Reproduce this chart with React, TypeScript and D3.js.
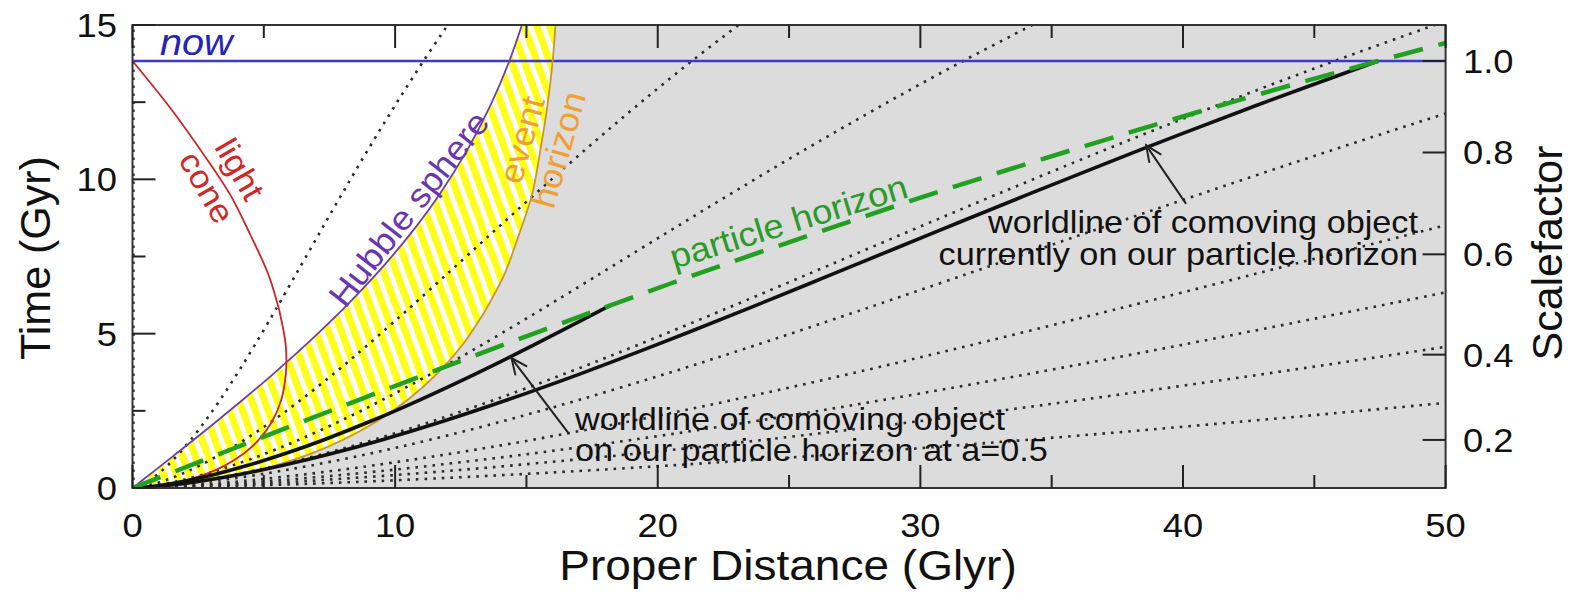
import React from 'react';
import * as d3 from 'd3';

const W = 1573;
const H = 593;

// Scale-factor history a(t) (read from the right-hand axis, intermediate values estimated)
const scaleFactor = [0, 0.005, 0.01, 0.02, 0.04, 0.06, 0.09, 0.12, 0.16, 0.2, 0.25, 0.3, 0.36, 0.42, 0.49, 0.5, 0.56, 0.64, 0.72, 0.81, 0.9, 1.0, 1.1];
const timeGyr = [0, 0.0062, 0.0175, 0.0494, 0.14, 0.257, 0.471, 0.726, 1.116, 1.557, 2.17, 2.841, 3.707, 4.627, 5.746, 5.908, 6.894, 8.217, 9.528, 10.97, 12.36, 13.834, 15.23];
// Proper distances (Glyr) of the curves at those times
const hubbleSphere = [0, 0.0093, 0.0262, 0.0741, 0.2096, 0.385, 0.707, 1.087, 1.669, 2.322, 3.217, 4.176, 5.374, 6.585, 7.96, 8.15, 9.247, 10.566, 11.702, 12.761, 13.611, 14.35, 14.917];
const eventHorizon = [0, 0.299, 0.582, 1.12, 2.118, 3.036, 4.294, 5.434, 6.797, 8.007, 9.325, 10.457, 11.6, 12.553, 13.43, 13.54, 14.146, 14.719, 15.221, 15.535, 15.795, 15.999, 16.123];
const particleHorizon = [0, 0.0185, 0.0524, 0.148, 0.419, 0.77, 1.415, 2.177, 3.351, 4.679, 6.531, 8.571, 11.234, 14.087, 17.649, 18.17, 21.373, 25.874, 30.446, 35.841, 41.29, 47.43, 53.65];
const lightCone = [0, 0.219, 0.422, 0.8, 1.478, 2.076, 2.854, 3.514, 4.237, 4.807, 5.326, 5.658, 5.84, 5.834, 5.591, 5.54, 5.186, 4.48, 3.702, 2.576, 1.396, 0];

// Comoving distances (Glyr) of the dotted worldlines
const comovingDistances = [0, 11.08, 21.3, 31.63, 45.77, 56.5, 76, 95, 120, 170];
// Solid worldlines: comoving distance and last index (scale factor) drawn
const worldlineNowChi = 47.43;
const worldlineNowEnd = 21; // a = 1.0
const worldlineHalfChi = 36.35;
const worldlineHalfEnd = 15; // a = 0.5

const nowTime = 13.834;

const xMajorTicks = [0, 10, 20, 30, 40, 50];
const xMinorTicks = [5, 15, 25, 35, 45];
const yMajorTicks = [0, 5, 10, 15];
const yMinorTicks = [2.5, 7.5, 12.5];
const scalefactorTicks = [0.2, 0.4, 0.6, 0.8, 1.0];
const scalefactorTickTimes = [1.557, 4.32, 7.57, 10.87, 13.834];
const scalefactorLabels = ['0.2', '0.4', '0.6', '0.8', '1.0'];

// Annotation arrows [tail, tip] in data coordinates (Glyr, Gyr)
const arrowNow = [[40.1, 9.23], [38.6, 11.1]];
const arrowHalf = [[16.6, 1.78], [14.43, 4.21]];

const FONT = "'Liberation Sans', Arial, Helvetica, sans-serif";
const SX = 1.07;

const L = 132.5, R = 1445.6, T = 25, B = 488;

function Txt(props: any) {
  const { x, y, rot = 0, size, anchor = 'start', fill = '#111', italic = false, sx = SX, children } = props;
  return (
    <text
      transform={`translate(${x},${y}) rotate(${rot}) scale(${sx},1)`}
      fontSize={size}
      textAnchor={anchor}
      fill={fill}
      fontStyle={italic ? 'italic' : 'normal'}
      fontFamily={FONT}
    >
      {children}
    </text>
  );
}

function Arrow({ pts, xs, ys }: any) {
  const [x1, y1] = [xs(pts[0][0]), ys(pts[0][1])];
  const [x2, y2] = [xs(pts[1][0]), ys(pts[1][1])];
  const ang = Math.atan2(y2 - y1, x2 - x1);
  const len = 17;
  const spread = 0.42;
  const h1 = [x2 - len * Math.cos(ang - spread), y2 - len * Math.sin(ang - spread)];
  const h2 = [x2 - len * Math.cos(ang + spread), y2 - len * Math.sin(ang + spread)];
  return (
    <g stroke="#222" strokeWidth={2} fill="none" strokeLinecap="round">
      <line x1={x1} y1={y1} x2={x2} y2={y2} />
      <polyline points={`${h1[0]},${h1[1]} ${x2},${y2} ${h2[0]},${h2[1]}`} />
    </g>
  );
}

export default function App() {
  const xs = d3.scaleLinear().domain([0, 50]).range([L, R]);
  const ys = d3.scaleLinear().domain([0, 15]).range([B, T]);
  const curve = d3.curveCatmullRom.alpha(0.5);

  const idx = d3.range(timeGyr.length);

  const hatchArea = d3
    .area<number>()
    .y((i) => ys(timeGyr[i]))
    .x0((i) => xs(hubbleSphere[i]))
    .x1((i) => xs(eventHorizon[i]))
    .curve(curve)(idx) as string;

  const grayArea = d3
    .area<number>()
    .y((i) => ys(timeGyr[i]))
    .x0((i) => xs(eventHorizon[i]))
    .x1(() => xs(60))
    .curve(curve)(idx) as string;

  const lineOf = (arr: number[], n?: number) =>
    d3
      .line<number>()
      .x((i) => xs(arr[i]))
      .y((i) => ys(timeGyr[i]))
      .curve(curve)(idx.slice(0, n ?? arr.length)) as string;

  const worldline = (chi: number, end: number) =>
    d3
      .line<number>()
      .x((i) => xs(scaleFactor[i] * chi))
      .y((i) => ys(timeGyr[i]))
      .curve(curve)(idx.slice(0, end + 1)) as string;

  return (
    <svg width={W} height={H} style={{ position: 'absolute', left: 0, top: 0, background: '#fff' }}>
      <defs>
        <clipPath id="plotClip">
          <rect x={L} y={T} width={R - L} height={B - T} />
        </clipPath>
        <pattern id="hatch" width={12} height={12} patternUnits="userSpaceOnUse" patternTransform="rotate(-20)">
          <rect width={12} height={12} fill="#ffffff" />
          <rect width={7} height={12} fill="#ffff1a" />
        </pattern>
      </defs>

      <g clipPath="url(#plotClip)">
        <path d={grayArea} fill="#dcdcdc" />
        <path d={hatchArea} fill="url(#hatch)" />

        {/* dotted comoving worldlines */}
        {comovingDistances.map((chi, k) =>
          chi === 0 ? (
            <line key={k} x1={xs(0) + 1} x2={xs(0) + 1} y1={ys(0)} y2={ys(15)} stroke="#333" strokeWidth={2.4} strokeDasharray="2.4 5.6" />
          ) : (
            <path key={k} d={worldline(chi, timeGyr.length - 1)} fill="none" stroke="#2a2a2a" strokeWidth={2.6} strokeDasharray="2.6 6" />
          )
        )}

        {/* now line */}
        <line x1={xs(0)} x2={xs(50)} y1={ys(nowTime)} y2={ys(nowTime)} stroke="#3a3ad0" strokeWidth={2.5} />

        {/* horizons */}
        <path d={lineOf(hubbleSphere)} fill="none" stroke="#6c3fae" strokeWidth={1.8} />
        <path d={lineOf(eventHorizon)} fill="none" stroke="#c8962a" strokeWidth={1.8} />
        <path d={lineOf(lightCone)} fill="none" stroke="#c82828" strokeWidth={1.8} />

        {/* solid worldlines */}
        <path d={worldline(worldlineHalfChi, worldlineHalfEnd)} fill="none" stroke="#111" strokeWidth={3.6} />
        <path d={worldline(worldlineNowChi, worldlineNowEnd)} fill="none" stroke="#111" strokeWidth={3.6} />

        {/* particle horizon */}
        <path d={lineOf(particleHorizon)} fill="none" stroke="#22a022" strokeWidth={4.5} strokeDasharray="30 16" />
      </g>

      {/* frame */}
      <rect x={L} y={T} width={R - L} height={B - T} fill="none" stroke="#333" strokeWidth={2} />

      {/* ticks */}
      <g stroke="#222" strokeWidth={2}>
        {xMajorTicks.map((v) => (
          <g key={'xm' + v}>
            <line x1={xs(v)} x2={xs(v)} y1={B} y2={B - 23} />
            <line x1={xs(v)} x2={xs(v)} y1={T} y2={T + 23} />
          </g>
        ))}
        {xMinorTicks.map((v) => (
          <g key={'xn' + v}>
            <line x1={xs(v)} x2={xs(v)} y1={B} y2={B - 13} />
            <line x1={xs(v)} x2={xs(v)} y1={T} y2={T + 13} />
          </g>
        ))}
        {yMajorTicks.map((v) => (
          <line key={'ym' + v} x1={L} x2={L + 23} y1={ys(v)} y2={ys(v)} />
        ))}
        {yMinorTicks.map((v) => (
          <line key={'yn' + v} x1={L} x2={L + 13} y1={ys(v)} y2={ys(v)} />
        ))}
        {scalefactorTickTimes.map((t, i) => (
          <line key={'sf' + i} x1={R} x2={R - 23} y1={ys(t)} y2={ys(t)} />
        ))}
      </g>

      {/* tick labels */}
      {xMajorTicks.map((v) => (
        <Txt key={'xl' + v} x={xs(v)} y={537} size={34} anchor="middle">
          {String(v)}
        </Txt>
      ))}
      {yMajorTicks.map((v) => (
        <Txt key={'yl' + v} x={117} y={ys(v) + 12} size={34} anchor="end">
          {String(v)}
        </Txt>
      ))}
      {scalefactorTicks.map((v, i) => (
        <Txt key={'sl' + i} x={1463} y={ys(scalefactorTickTimes[i]) + 12} size={34}>
          {scalefactorLabels[i]}
        </Txt>
      ))}

      {/* axis titles */}
      <Txt x={788} y={580} size={43} anchor="middle">Proper Distance (Glyr)</Txt>
      <Txt x={50} y={258} rot={-90} size={43} anchor="middle" sx={1}>Time (Gyr)</Txt>
      <Txt x={1562} y={253} rot={-90} size={43} anchor="middle" sx={1}>Scalefactor</Txt>

      {/* curve labels */}
      <Txt x={160} y={55} size={37} italic fill="#2424b8">now</Txt>
      <Txt x={230} y={175} rot={60} size={33} anchor="middle" fill="#d02828">light</Txt>
      <Txt x={197} y={193} rot={60} size={33} anchor="middle" fill="#d02828">cone</Txt>
      <Txt x={418} y={216} rot={-52} size={34} anchor="middle" fill="#6a36b0">Hubble sphere</Txt>
      <Txt x={533} y={143} rot={-74} size={34} anchor="middle" fill="#f0a033">event</Txt>
      <Txt x={570} y={153} rot={-74} size={34} anchor="middle" fill="#f0a033">horizon</Txt>
      <Txt x={792} y={233} rot={-17} size={34} anchor="middle" fill="#2a9a2a">particle horizon</Txt>

      {/* annotations */}
      <Txt x={1418} y={233} size={32} anchor="end">worldline of comoving object</Txt>
      <Txt x={1418} y={265} size={32} anchor="end">currently on our particle horizon</Txt>
      <Arrow pts={arrowNow} xs={xs} ys={ys} />
      <Txt x={575} y={430} size={32}>worldline of comoving object</Txt>
      <Txt x={575} y={461} size={32}>on our particle horizon at a=0.5</Txt>
      <Arrow pts={arrowHalf} xs={xs} ys={ys} />
    </svg>
  );
}
